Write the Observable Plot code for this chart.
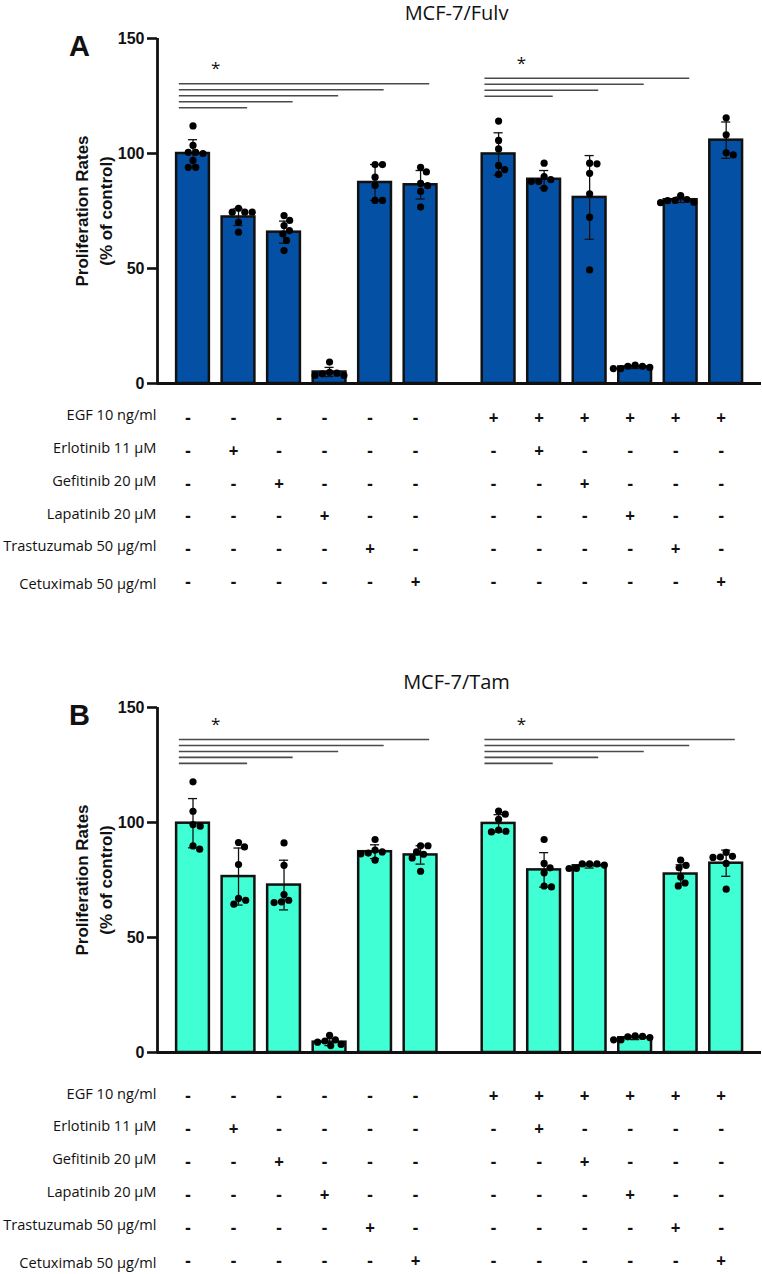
<!DOCTYPE html>
<html><head><meta charset="utf-8">
<script src="https://cdn.jsdelivr.net/npm/d3@7"></script>
<script src="https://cdn.jsdelivr.net/npm/@observablehq/plot@0.6"></script>
<style>
body{margin:0;background:#fff;}
#chart{width:762px;}
#chart svg{display:block;overflow:visible;}
</style></head><body><div id="chart"></div>
<script>
// ---- data ----
const rowLabels = ["EGF 10 ng/ml","Erlotinib 11 µM","Gefitinib 20 µM","Lapatinib 20 µM","Trastuzumab 50 µg/ml","Cetuximab 50 µg/ml"];
const egf  = [0,0,0,0,0,0,1,1,1,1,1,1];
const drug = [0,1,2,3,4,5,0,1,2,3,4,5]; // 0 = no inhibitor, k = rowLabels[k]

const fulvMean = [100, 72.4, 65.8, 5.0, 87.4, 86.4, 99.8, 88.8, 80.9, 7.2, 79.9, 105.8];
const fulvSD   = [6.0, 3.7, 4.8, 2.0, 7.8, 6.2, 9.2, 3.8, 18.2, 0.7, 1.2, 7.9];
const fulvDots = [
  [112, 103.5, 100.5, 100.5, 100, 97, 94, 94],
  [74.5, 74.5, 76.2, 74.5, 70.1, 65.8],
  [70.9, 73, 68.7, 66.5, 65, 62.2, 57.8],
  [9.3, 4.9, 4.5, 4.2, 3.5, 3.5],
  [95.2, 95.2, 89.7, 86.1, 79.6, 79.6],
  [94, 92, 87, 86, 83.5, 76.7],
  [114.1, 105.7, 102, 94.8, 93, 90.9],
  [95.8, 90, 87.8, 88.6, 87.8, 84.9],
  [95.5, 95.8, 91.4, 82.5, 72.3, 49.4],
  [8, 7.5, 7.5, 7, 6.5, 6.5],
  [81.7, 78.8, 79.6, 78.6, 80, 79.5],
  [115.5, 108.1, 99.4, 100.3]
];
const fulvSigTargets = [[1,2,3,4,5],[1,2,3,4]];
const fulvSigTop = [130.3, 132.7];

const tamMean = [99.7, 76.5, 72.8, 4.5, 87.3, 85.9, 99.6, 79.4, 81.2, 6.4, 77.6, 82.3];
const tamSD   = [10.7, 12.4, 10.8, 1.5, 3.0, 4.0, 3.8, 7.5, 1.0, 0.8, 4.0, 5.7];
const tamDots = [
  [117.7, 104.9, 98.4, 99.1, 88.4, 89.8],
  [91.3, 89.4, 81.7, 67, 64.5, 66.2],
  [91.1, 81.4, 66.2, 65.2, 68.7, 65.5],
  [7.5, 5.5, 5, 4.5, 3.5, 3],
  [92.6, 87.2, 88, 86.7, 86.4, 83.6],
  [87.2, 89.9, 89.9, 86.2, 84.6, 78.8],
  [103.6, 105, 101.4, 96.7, 95.9, 96.2],
  [92.6, 82.2, 80.3, 78.1, 72, 72.4],
  [82, 82, 81.5, 82, 80, 80],
  [7.2, 6.8, 7, 6.5, 5.5, 5.5],
  [83.6, 81.4, 80.3, 76.3, 72.4, 73.7],
  [85.3, 84.8, 87, 85, 82.2, 71]
];
const tamSigTargets = [[1,2,3,4,5],[1,2,3,4,5]];
const tamSigTop = [136.1, 136.1];

// ---- layout helpers ----
const GAP = 0.714;
const pos = i => i + (egf[i] ? GAP : 0);
const XMIN = -0.78, XMAX = 12.49;
const PX_X = 604 / (XMAX - XMIN), PX_Y = 345 / 150;

function swarm(vals, center) {
  const D = 7.4, placed = [], out = new Array(vals.length);
  const order = vals.map((v, k) => k).sort((a, b) => vals[b] - vals[a]);
  for (const k of order) {
    const yk = vals[k] * PX_Y, iv = [];
    for (const p of placed) {
      const dy = Math.abs(p.y - yk);
      if (dy < D) { const w = Math.sqrt(D * D - dy * dy); iv.push([p.x - w, p.x + w]); }
    }
    const cands = [0];
    iv.forEach(([a, b]) => cands.push(b, a));
    cands.sort((a, b) => Math.abs(a) - Math.abs(b));
    const x = cands.find(c => iv.every(([a, b]) => c <= a + 1e-6 || c >= b - 1e-6));
    placed.push({x, y: yk});
    out[k] = center + x / PX_X;
  }
  return out;
}

function panel(o) {
  const H = o.height, MB = H - 383;
  const bars = o.means.map((m, i) => ({i, pos: pos(i), mean: m, sd: o.sds[i]}));
  const dots = [];
  o.dots.forEach((vals, i) => {
    const xs = swarm(vals, pos(i));
    vals.forEach((v, k) => dots.push({x: xs[k], v}));
  });
  const sig = [], stars = [];
  o.sigTargets.forEach((targets, g) => {
    const c = g * 6;
    const sorted = targets.slice().sort((a, b) => b - a);
    sorted.forEach((t, k) => sig.push({x1: pos(c) - 0.3, x2: pos(c + t) + 0.2, y: o.sigTop[g] - k * 2.6}));
    stars.push({x: pos(c) + 0.5, y: o.sigTop[g] + 6.6});
  });
  const marks = [
    Plot.rect(bars, {x1: d => d.pos - 0.36, x2: d => d.pos + 0.36, y1: 0, y2: "mean",
      fill: o.fill, stroke: "#111", strokeWidth: 2.5}),
    Plot.ruleX(bars, {x: "pos", y1: d => d.mean - d.sd, y2: d => d.mean + d.sd, stroke: "#111", strokeWidth: 1.3}),
    Plot.ruleY(bars, {x1: d => d.pos - 0.1, x2: d => d.pos + 0.1, y: d => d.mean + d.sd, stroke: "#111", strokeWidth: 1.3}),
    Plot.ruleY(bars, {x1: d => d.pos - 0.1, x2: d => d.pos + 0.1, y: d => d.mean - d.sd, stroke: "#111", strokeWidth: 1.3}),
    Plot.dot(dots, {x: "x", y: "v", r: 3.6, fill: "#000", stroke: null}),
    Plot.ruleY(sig, {x1: "x1", x2: "x2", y: "y", stroke: "#4a4a4a", strokeWidth: 1.6}),
    Plot.text(stars, {x: "x", y: "y", text: () => "*", fontSize: 17, textAnchor: "middle", lineAnchor: "middle"}),
    Plot.ruleY([0], {x1: XMIN, x2: XMAX, stroke: "#111", strokeWidth: 2.8}),
    Plot.ruleX([XMIN], {y1: -0.5, y2: 150, stroke: "#111", strokeWidth: 2.8}),
    Plot.axisY({ticks: [0, 50, 100, 150], tickSize: 10, tickPadding: 3, strokeWidth: 2.6, stroke: "#111",
      fontSize: 16, fontWeight: "bold", fontFamily: "Liberation Sans", label: null, tickFormat: d => String(d)}),
    Plot.text(["Proliferation Rates\n(% of control)"], {frameAnchor: "left", rotate: -90, dx: -65,
      fontSize: 17, fontWeight: "bold", fontFamily: "Liberation Sans", lineHeight: 1.38,
      textAnchor: "middle", lineAnchor: "middle"}),
    Plot.text([o.title], {frameAnchor: "top", dy: -25, dx: -3, fontSize: 20, textAnchor: "middle", lineAnchor: "middle"}),
    Plot.text([o.letter], {frameAnchor: "top-left", dx: -78, dy: 8, fontSize: 29, fontWeight: "bold",
      fontFamily: "Liberation Sans", textAnchor: "middle", lineAnchor: "middle"})
  ];
  rowLabels.forEach((lab, r) => {
    const dy = o.tableTop + r * o.tableStep;
    marks.push(Plot.text(bars, {x: "pos", frameAnchor: "bottom", dy, dx: -5,
      text: d => (r === 0 ? egf[d.i] === 1 : drug[d.i] === r) ? "+" : "-",
      fontSize: 17, fontWeight: "bold", textAnchor: "middle", lineAnchor: "middle"}));
    marks.push(Plot.text([lab], {frameAnchor: "bottom-left", dy: dy - 3 + (r === 5 ? 5 : 0), dx: -1,
      fontSize: 14.6, textAnchor: "end", lineAnchor: "middle"}));
  });
  return Plot.plot({
    width: 762, height: H, marginLeft: 157, marginRight: 1, marginTop: 38, marginBottom: MB,
    x: {domain: [XMIN, XMAX], axis: null},
    y: {domain: [0, 150]},
    style: {fontFamily: "Open Sans", fontSize: "15px", background: "white", overflow: "visible", color: "#111"},
    marks
  });
}

const chart = document.getElementById("chart");
chart.append(panel({title: "MCF-7/Fulv", letter: "A", fill: "#0350a5", height: 669,
  means: fulvMean, sds: fulvSD, dots: fulvDots, sigTargets: fulvSigTargets, sigTop: fulvSigTop,
  tableTop: 35.3, tableStep: 32.7}));
chart.append(panel({title: "MCF-7/Tam", letter: "B", fill: "#40ffd4", height: 605,
  means: tamMean, sds: tamSD, dots: tamDots, sigTargets: tamSigTargets, sigTop: tamSigTop,
  tableTop: 44.4, tableStep: 32.9}));
</script></body></html>
